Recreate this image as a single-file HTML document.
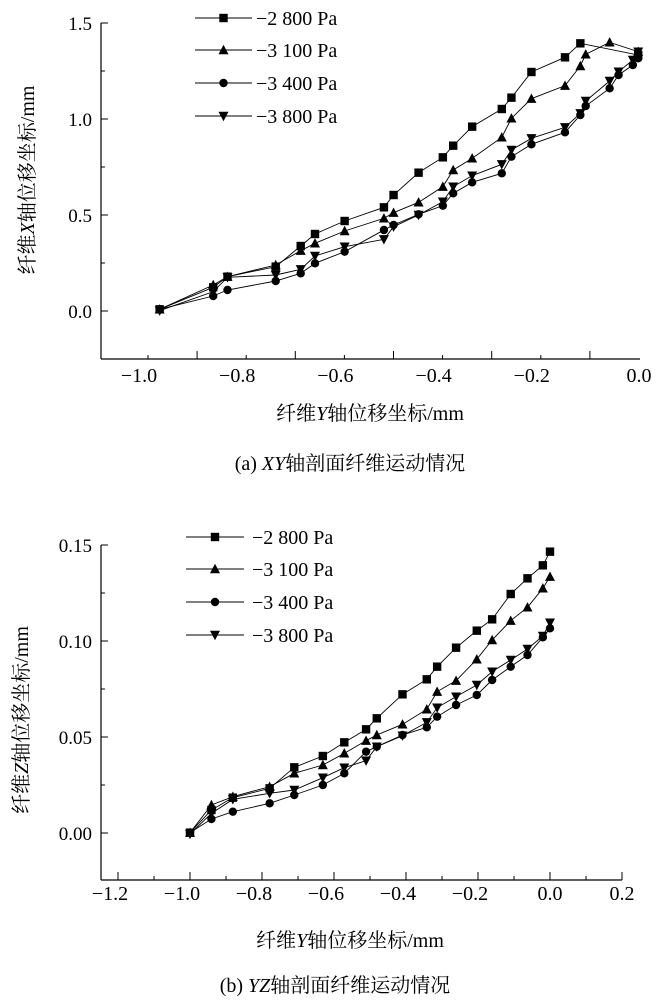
<!DOCTYPE html>
<html><head><meta charset="utf-8"><style>
body{margin:0;background:#fff;}
svg{display:block;font-family:"Liberation Serif","Noto Serif CJK SC",serif;}
</style></head><body>
<svg id="s" width="657" height="1000" viewBox="0 0 657 1000" xmlns="http://www.w3.org/2000/svg"></svg>
<script>
const S=document.getElementById('s');let h='';
const kx=2.8,ky=3;
function P(ox,oy,a){return a.map(p=>[ox+p[0]/kx,oy+p[1]/ky]);}
function mk(t,x,y){const r=4.2;
 if(t==0)return `<rect x="${x-r}" y="${y-r}" width="${2*r}" height="${2*r}"/>`;
 if(t==1)return `<polygon points="${x},${y-r-1} ${x-r-0.8},${y+r} ${x+r+0.8},${y+r}"/>`;
 if(t==2)return `<circle cx="${x}" cy="${y}" r="${r}"/>`;
 return `<polygon points="${x},${y+r+1} ${x-r-0.8},${y-r} ${x+r+0.8},${y-r}"/>`;}
function series(pts,t){h+=`<polyline fill="none" stroke="#000" stroke-width="0.9" points="${pts.map(p=>p.join(',')).join(' ')}"/>`;
 pts.forEach(p=>h+=mk(t,p[0],p[1]));}
const labs=['−2 800 Pa','−3 100 Pa','−3 400 Pa','−3 800 Pa'];
function legend(x1,x2,xt,ys){ys.forEach((y,i)=>{h+=`<line x1="${x1}" x2="${x2}" y1="${y}" y2="${y}" stroke="#000" stroke-width="0.9"/>`+mk(i,(x1+x2)/2,y)+`<text x="${xt}" y="${y+7}" font-size="20">${labs[i]}</text>`;});}
// top chart
const A=[
[[195,928],[345,862],[385,830],[520,800],[590,738],[630,702],[713,663],[823,622],[850,585],[920,518],[988,472],[1017,437],[1070,380],[1153,327],[1180,293],[1236,216],[1330,172],[1373,130],[1535,165]],
[[195,928],[345,855],[385,830],[520,795],[590,752],[630,730],[713,693],[823,655],[850,638],[920,607],[988,560],[1017,510],[1070,475],[1153,412],[1180,355],[1236,296],[1330,257],[1373,198],[1388,163],[1455,127],[1535,155]],
[[195,928],[345,888],[385,870],[520,843],[590,820],[630,790],[713,755],[823,690],[850,675],[920,643],[988,617],[1017,580],[1070,547],[1153,520],[1180,470],[1236,433],[1330,397],[1373,345],[1388,318],[1455,265],[1480,225],[1520,195],[1535,175]],
[[195,932],[345,875],[385,832],[520,825],[590,808],[630,768],[713,740],[823,718],[850,680],[920,645],[988,605],[1017,560],[1070,527],[1153,493],[1180,450],[1236,415],[1330,382],[1373,340],[1388,303],[1455,243],[1480,215],[1520,180],[1535,155]]];
h+=`<g stroke="#000" stroke-width="1.2"><line x1="101" y1="23" x2="101" y2="359"/><line x1="101" y1="359" x2="640" y2="359"/></g>`;
for(let i=0;i<=6;i++){let y=23+i*(311-23)/6;h+=`<line x1="101" x2="${i%2?105:108}" y1="${y}" y2="${y}" stroke="#000"/>`;}
['1.5','1.0','0.5','0.0'].forEach((t,i)=>{h+=`<text x="92" y="${23+i*96+7}" font-size="19" text-anchor="end">${t}</text>`;});
for(let i=0;i<=10;i++){let x=148+i*49.1-49.1;if(x<101)continue;h+=`<line x1="${x}" x2="${x}" y1="359" y2="${i%2?355:351}" stroke="#000"/>`;}
['−1.0','−0.8','−0.6','−0.4','−0.2','0.0'].forEach((t,i)=>{h+=`<text x="${148+i*98.2-(i<5?9:0)}" y="382" font-size="20" text-anchor="middle">${t}</text>`;});
A.forEach((a,i)=>series(P(90,0,a),i));
legend(195,252,256,[18,50,83,116]);
h+=`<text x="370" y="420" font-size="20" text-anchor="middle">纤维<tspan font-style="italic">Y</tspan>轴位移坐标/mm</text>`;
h+=`<text x="350" y="470" font-size="20" text-anchor="middle">(a) <tspan font-style="italic">XY</tspan>轴剖面纤维运动情况</text>`;
h+=`<text transform="translate(34,180) rotate(-90)" font-size="20" text-anchor="middle">纤维<tspan font-style="italic">X</tspan>轴位移坐标/mm</text>`;
// bottom chart
const B=[
[[280,938],[340,870],[400,833],[503,805],[572,742],[652,708],[712,667],[773,628],[803,595],[875,523],[943,478],[972,440],[1025,383],[1083,332],[1126,298],[1178,222],[1225,175],[1268,136],[1288,95]],
[[280,938],[340,855],[400,830],[503,800],[572,760],[652,735],[712,700],[773,662],[803,645],[875,613],[943,568],[972,515],[1025,482],[1083,418],[1126,360],[1178,302],[1225,262],[1268,205],[1288,170]],
[[280,938],[340,897],[400,875],[503,850],[572,825],[652,795],[712,760],[773,695],[803,680],[875,645],[943,622],[972,590],[1025,555],[1083,525],[1126,480],[1178,440],[1225,405],[1268,352],[1288,325]],
[[280,942],[340,880],[400,838],[503,820],[572,810],[652,773],[712,743],[773,722],[803,680],[875,647],[943,607],[972,563],[1025,530],[1083,495],[1126,455],[1178,420],[1225,387],[1268,348],[1288,308]]];
h+=`<g stroke="#000" stroke-width="1.2"><line x1="101" y1="545" x2="101" y2="880"/><line x1="101" y1="880" x2="622" y2="880"/></g>`;
for(let i=0;i<=6;i++){let y=545+i*(833-545)/6;h+=`<line x1="101" x2="${i%2?105:108}" y1="${y}" y2="${y}" stroke="#000"/>`;}
['0.15','0.10','0.05','0.00'].forEach((t,i)=>{h+=`<text x="92" y="${545+i*96+7}" font-size="19" text-anchor="end">${t}</text>`;});
for(let i=0;i<=14;i++){let x=118+i*36;h+=`<line x1="${x}" x2="${x}" y1="880" y2="${i%2?876:872}" stroke="#000"/>`;}
['−1.2','−1.0','−0.8','−0.6','−0.4','−0.2','0.0','0.2'].forEach((t,i)=>{h+=`<text x="${118+i*72-(t[0]=='−'?8:0)}" y="900" font-size="20" text-anchor="middle">${t}</text>`;});
B.forEach((a,i)=>series(P(90,520,a),i));
legend(186,244,252,[537,569,602,635]);
h+=`<text x="350" y="947" font-size="20" text-anchor="middle">纤维<tspan font-style="italic">Y</tspan>轴位移坐标/mm</text>`;
h+=`<text x="335" y="992" font-size="20" text-anchor="middle">(b) <tspan font-style="italic">YZ</tspan>轴剖面纤维运动情况</text>`;
h+=`<text transform="translate(28,720) rotate(-90)" font-size="20" text-anchor="middle">纤维<tspan font-style="italic">Z</tspan>轴位移坐标/mm</text>`;
S.innerHTML=h;
</script>
</body></html>
